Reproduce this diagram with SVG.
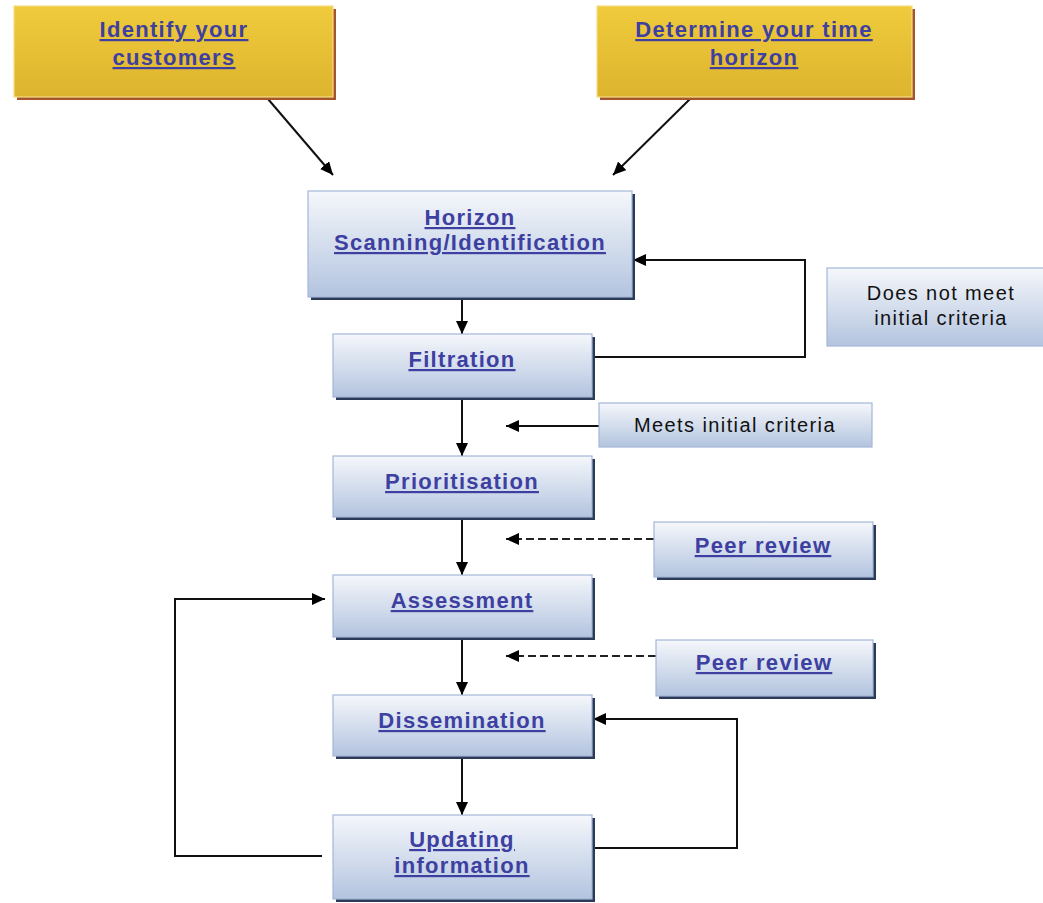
<svg xmlns="http://www.w3.org/2000/svg" width="1043" height="903" viewBox="0 0 1043 903">
<defs>
<linearGradient id="gBlue" x1="0" y1="0" x2="0" y2="1">
<stop offset="0" stop-color="#f5f7fb"/>
<stop offset="1" stop-color="#b3c4df"/>
</linearGradient>
<linearGradient id="gYellow" x1="0" y1="0" x2="0" y2="1">
<stop offset="0" stop-color="#f0cb3c"/>
<stop offset="1" stop-color="#ddb42e"/>
</linearGradient>
<marker id="arr" viewBox="0 0 13 12" markerUnits="userSpaceOnUse" markerWidth="13" markerHeight="12" refX="13" refY="6" orient="auto">
<path d="M0,0 L13,6 L0,12 z" fill="#000"/>
</marker>
<style>
.blue{fill:url(#gBlue);stroke:#a3b6d8;stroke-width:1.2}
.yel{fill:url(#gYellow);stroke:#f5dc86;stroke-width:1.2}
.sh{fill:#2c3a5a}
.ysh{fill:#a5542e}
.lnk{font-family:"Liberation Sans",Arial,sans-serif;font-weight:bold;font-size:22px;fill:#3d40a0;text-decoration:underline;text-anchor:middle;letter-spacing:1.3px}
.plain{font-family:"Liberation Sans",Arial,sans-serif;font-size:20px;fill:#111;text-anchor:middle;letter-spacing:1.4px}
.c{fill:none;stroke:#111;stroke-width:2}
.d{fill:none;stroke:#222;stroke-width:2;stroke-dasharray:8 4}
</style>
</defs>
<rect width="1043" height="903" fill="#fff"/>

<g id="connectors">
<path class="c" d="M268,99 L333,175" marker-end="url(#arr)"/>
<path class="c" d="M690,99 L613,175" marker-end="url(#arr)"/>
<path class="c" d="M462,300 L462,334" marker-end="url(#arr)"/>
<path class="c" d="M462,400 L462,456" marker-end="url(#arr)"/>
<path class="c" d="M462,520 L462,575" marker-end="url(#arr)"/>
<path class="c" d="M462,640 L462,695" marker-end="url(#arr)"/>
<path class="c" d="M462,759 L462,815" marker-end="url(#arr)"/>
<path class="c" d="M592,357 L805,357 L805,260 L633,260" marker-end="url(#arr)"/>
<path class="c" d="M599,426 L506,426" marker-end="url(#arr)"/>
<path class="d" d="M654,539 L506,539" marker-end="url(#arr)"/>
<path class="d" d="M656,656 L506,656" marker-end="url(#arr)"/>
<path class="c" d="M322,856 L175,856 L175,599 L325,599" marker-end="url(#arr)"/>
<path class="c" d="M592,848 L737,848 L737,719 L593,719" marker-end="url(#arr)"/>
</g>

<g id="identify">
<rect class="ysh" x="17" y="9" width="319" height="91"/>
<rect class="yel" x="14" y="6" width="319" height="91"/>
<text class="lnk" x="174" y="37">Identify your</text>
<text class="lnk" x="174" y="65">customers</text>
</g>

<g id="determine">
<rect class="ysh" x="600" y="9" width="315" height="91"/>
<rect class="yel" x="597" y="6" width="315" height="91"/>
<text class="lnk" x="754" y="37">Determine your time</text>
<text class="lnk" x="754" y="65">horizon</text>
</g>

<g id="horizon">
<rect class="sh" x="311" y="194" width="324" height="106"/>
<rect class="blue" x="308" y="191" width="324" height="106"/>
<text class="lnk" x="470" y="225">Horizon</text>
<text class="lnk" x="470" y="250">Scanning/Identification</text>
</g>

<g id="filtration">
<rect class="sh" x="336" y="337" width="259" height="63"/>
<rect class="blue" x="333" y="334" width="259" height="63"/>
<text class="lnk" x="462" y="367">Filtration</text>
</g>

<g id="prioritisation">
<rect class="sh" x="336" y="459" width="259" height="61"/>
<rect class="blue" x="333" y="456" width="259" height="61"/>
<text class="lnk" x="462" y="489">Prioritisation</text>
</g>

<g id="assessment">
<rect class="sh" x="336" y="578" width="259" height="62"/>
<rect class="blue" x="333" y="575" width="259" height="62"/>
<text class="lnk" x="462" y="608">Assessment</text>
</g>

<g id="dissemination">
<rect class="sh" x="336" y="698" width="259" height="61"/>
<rect class="blue" x="333" y="695" width="259" height="61"/>
<text class="lnk" x="462" y="728">Dissemination</text>
</g>

<g id="updating">
<rect class="sh" x="336" y="818" width="259" height="84"/>
<rect class="blue" x="333" y="815" width="259" height="84"/>
<text class="lnk" x="462" y="847">Updating</text>
<text class="lnk" x="462" y="873">information</text>
</g>

<g id="doesnotmeet">
<rect class="blue" x="827" y="268" width="220" height="78"/>
<text class="plain" x="941" y="300">Does not meet</text>
<text class="plain" x="941" y="325">initial criteria</text>
</g>

<g id="meets">
<rect class="blue" x="599" y="403" width="273" height="44"/>
<text class="plain" x="735" y="432">Meets initial criteria</text>
</g>

<g id="peer1">
<rect class="sh" x="657" y="525" width="219" height="55"/>
<rect class="blue" x="654" y="522" width="219" height="55"/>
<text class="lnk" x="763" y="553">Peer review</text>
</g>

<g id="peer2">
<rect class="sh" x="659" y="643" width="217" height="56"/>
<rect class="blue" x="656" y="640" width="217" height="56"/>
<text class="lnk" x="764" y="670">Peer review</text>
</g>
</svg>
